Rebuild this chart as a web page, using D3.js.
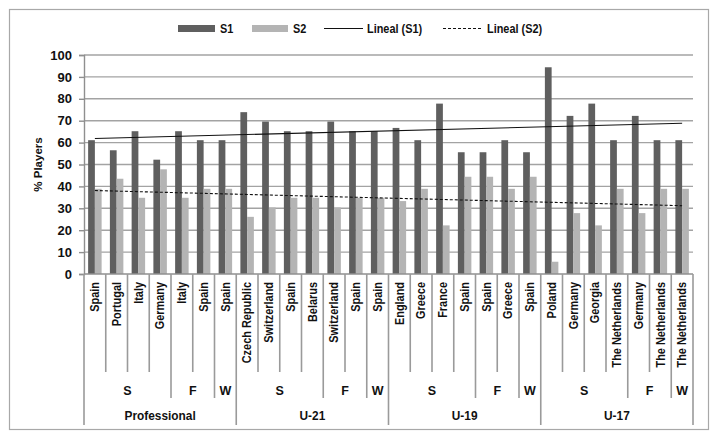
<!DOCTYPE html>
<html>
<head>
<meta charset="utf-8">
<script src="https://cdn.jsdelivr.net/npm/d3@7/dist/d3.min.js"></script>
<style>
  html, body { margin: 0; padding: 0; background: #fff; }
  svg { display: block; }
  .cond { font-family: "Liberation Sans", Arial, sans-serif; font-weight: bold; }
  .reg { font-family: "Liberation Sans", Arial, sans-serif; font-weight: bold; }
</style>
</head>
<body>
<svg id="chart" width="718" height="439"></svg>
<script>
// ---- data ----
const categories = [
  "Spain", "Portugal", "Italy", "Germany", "Italy", "Spain", "Spain",
  "Czech Republic", "Switzerland", "Spain", "Belarus", "Switzerland", "Spain", "Spain",
  "England", "Greece", "France", "Spain", "Spain", "Greece", "Spain",
  "Poland", "Germany", "Georgia", "The Netherlands", "Germany", "The Netherlands", "The Netherlands"
];
const subLabels = ["S","S","S","S","F","F","W",
                   "S","S","S","S","F","F","W",
                   "S","S","S","S","F","F","W",
                   "S","S","S","S","F","F","W"];
const groupLabels = ["Professional","Professional","Professional","Professional","Professional","Professional","Professional",
                     "U-21","U-21","U-21","U-21","U-21","U-21","U-21",
                     "U-19","U-19","U-19","U-19","U-19","U-19","U-19",
                     "U-17","U-17","U-17","U-17","U-17","U-17","U-17"];
const s1 = [61.1, 56.5, 65.2, 52.2, 65.2, 61.1, 61.1,
            73.9, 69.6, 65.2, 65.2, 69.6, 65.2, 65.2,
            66.7, 61.1, 77.8, 55.6, 55.6, 61.1, 55.6,
            94.4, 72.2, 77.8, 61.1, 72.2, 61.1, 61.1];
const s2 = [38.9, 43.5, 34.8, 47.8, 34.8, 38.9, 38.9,
            26.1, 30.4, 34.8, 34.8, 30.4, 34.8, 34.8,
            33.3, 38.9, 22.2, 44.4, 44.4, 38.9, 44.4,
             5.6, 27.8, 22.2, 38.9, 27.8, 38.9, 38.9];
const yTicks = [0,10,20,30,40,50,60,70,80,90,100];
const seriesNames = ["S1","S2"];
const yTitle = "% Players";

(function draw() {
// ---- layout ----
const svg = d3.select("#chart");
const pL = 84, pR = 693, pT = 55, pB = 274;
const c1 = "#5f5f5f", c2 = "#b4b4b4", gridC = "#a3a3a3";
const squeeze = 0.84;

// frame
svg.append("rect").attr("x", 9.5).attr("y", 9.5).attr("width", 699).attr("height", 420)
  .attr("fill", "none").attr("stroke", "#a8a8a8").attr("stroke-width", 1.2);

const idx = d3.range(categories.length);
const x = d3.scaleBand().domain(idx).range([pL, pR]).paddingInner(0.38).paddingOuter(0.19);
const xs = d3.scaleBand().domain([0,1]).range([0, x.bandwidth()]);
const y = d3.scaleLinear().domain([0,100]).range([pB, pT]);

// gridlines
svg.append("g").selectAll("line").data(yTicks.filter(t => t > 0)).join("line")
  .attr("x1", pL).attr("x2", pR).attr("y1", d => y(d)).attr("y2", d => y(d))
  .attr("stroke", gridC).attr("stroke-width", 1.4);

// y axis
const yAxis = d3.axisLeft(y).tickValues(yTicks).tickSize(5).tickPadding(7);
const ya = svg.append("g").attr("transform", `translate(${pL},0)`).call(yAxis);
ya.select(".domain").attr("stroke", "#8f8f8f").attr("stroke-width", 1.4);
ya.selectAll(".tick line").attr("stroke", "#8f8f8f").attr("stroke-width", 1.4);
ya.selectAll(".tick text").attr("class", "reg").attr("font-size", 13).attr("fill", "#111");

svg.append("text").attr("class", "reg").attr("font-size", 11.5).attr("fill", "#111")
  .attr("text-anchor", "middle")
  .attr("transform", `translate(42,${(pT+pB)/2}) rotate(-90)`)
  .text(yTitle);

// bars
const barsG = svg.append("g");
barsG.selectAll("rect.s1").data(idx).join("rect").attr("class","s1")
  .attr("x", i => x(i) + xs(0)).attr("width", xs.bandwidth())
  .attr("y", i => y(s1[i])).attr("height", i => y(0) - y(s1[i])).attr("fill", c1);
barsG.selectAll("rect.s2").data(idx).join("rect").attr("class","s2")
  .attr("x", i => x(i) + xs(1)).attr("width", xs.bandwidth())
  .attr("y", i => y(s2[i])).attr("height", i => y(0) - y(s2[i])).attr("fill", c2);

// linear trend lines (least squares, as in the original "Lineal" trendlines)
function linReg(vals) {
  const n = vals.length, xm = (n - 1) / 2, ym = d3.mean(vals);
  let num = 0, den = 0;
  vals.forEach((v, i) => { num += (i - xm) * (v - ym); den += (i - xm) * (i - xm); });
  const b = num / den, a = ym - b * xm;
  return i => a + b * i;
}
const cx = i => x(i) + x.bandwidth() / 2;
const r1 = linReg(s1), r2 = linReg(s2);
const n = categories.length;
const line = d3.line().x(d => cx(d[0])).y(d => y(d[1]));
svg.append("path").attr("d", line([[0, r1(0)], [n-1, r1(n-1)]]))
  .attr("stroke", "#111").attr("stroke-width", 1.1).attr("fill", "none");
svg.append("path").attr("d", line([[0, r2(0)], [n-1, r2(n-1)]]))
  .attr("stroke", "#111").attr("stroke-width", 1.1).attr("fill", "none").attr("stroke-dasharray", "3,2");

// x axis baseline
svg.append("line").attr("x1", pL).attr("x2", pR).attr("y1", pB).attr("y2", pB)
  .attr("stroke", "#8f8f8f").attr("stroke-width", 1.4);

// category separators: depth depends on level of boundary
const sepC = "#9a9a9a";
const boundaries = d3.range(n + 1);
function sepDepth(b) {
  if (b === 0 || b === n) return 425;
  if (groupLabels[b] !== groupLabels[b-1]) return 425;
  if (subLabels[b] !== subLabels[b-1]) return 398;
  return 372;
}
const stepW = x.step();
const bx = b => pL + b * stepW;
svg.append("g").selectAll("line").data(boundaries).join("line")
  .attr("x1", b => bx(b)).attr("x2", b => bx(b))
  .attr("y1", pB).attr("y2", b => sepDepth(b))
  .attr("stroke", sepC).attr("stroke-width", 1.6);

// category labels
svg.append("g").selectAll("text").data(idx).join("text")
  .attr("class", "cond").attr("font-size", 13).attr("fill", "#111")
  .attr("text-anchor", "end").attr("dominant-baseline", "central")
  .attr("transform", i => `translate(${cx(i)},282) rotate(-90) scale(${squeeze},1)`)
  .text(i => categories[i]);

// sub labels (S/F/W)
const subRuns = [];
idx.forEach(i => {
  const last = subRuns[subRuns.length - 1];
  if (last && last.label === subLabels[i] && last.group === groupLabels[i]) last.end = i;
  else subRuns.push({label: subLabels[i], group: groupLabels[i], start: i, end: i});
});
svg.append("g").selectAll("text").data(subRuns).join("text")
  .attr("class", "reg").attr("font-size", 12.5).attr("fill", "#111").attr("text-anchor", "middle")
  .attr("x", d => (bx(d.start) + bx(d.end + 1)) / 2).attr("y", 395)
  .text(d => d.label);

// group labels
const groupRuns = [];
idx.forEach(i => {
  const last = groupRuns[groupRuns.length - 1];
  if (last && last.label === groupLabels[i]) last.end = i;
  else groupRuns.push({label: groupLabels[i], start: i, end: i});
});
svg.append("g").selectAll("text").data(groupRuns).join("text")
  .attr("class", "reg").attr("font-size", 12.5).attr("fill", "#111").attr("text-anchor", "middle")
  .attr("transform", d => `translate(${(bx(d.start) + bx(d.end + 1)) / 2},420) scale(0.95,1)`)
  .text(d => d.label);

// legend
const lg = svg.append("g");
const legText = (tx, t) => lg.append("text").attr("class", "cond").attr("font-size", 13).attr("fill", "#111")
  .attr("transform", `translate(${tx},33) scale(${squeeze},1)`).text(t);
lg.append("rect").attr("x", 178).attr("y", 25).attr("width", 37).attr("height", 7).attr("fill", c1);
legText(220, seriesNames[0]);
lg.append("rect").attr("x", 252).attr("y", 25).attr("width", 36).attr("height", 7).attr("fill", c2);
legText(293, seriesNames[1]);
lg.append("line").attr("x1", 324).attr("x2", 363).attr("y1", 28.5).attr("y2", 28.5).attr("stroke", "#111").attr("stroke-width", 1);
legText(367, `Lineal (${seriesNames[0]})`);
lg.append("line").attr("x1", 443).attr("x2", 483).attr("y1", 28.5).attr("y2", 28.5).attr("stroke", "#111").attr("stroke-width", 1).attr("stroke-dasharray", "3,2");
legText(487, `Lineal (${seriesNames[1]})`);
})();
</script>
</body>
</html>
